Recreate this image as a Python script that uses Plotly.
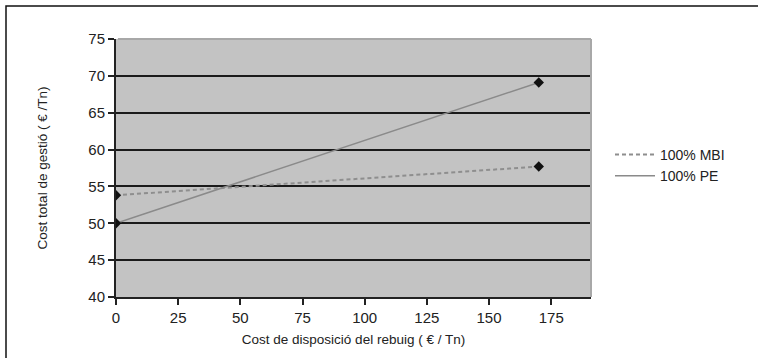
import plotly.graph_objects as go

x_vals = [0, 170]
mbi_vals = [53.8, 57.7]
pe_vals = [50.0, 69.1]
series_names = ["100% MBI", "100% PE"]
x_ticks = [0, 25, 50, 75, 100, 125, 150, 175]
y_ticks = [40, 45, 50, 55, 60, 65, 70, 75]

FONT = "Liberation Sans, Arial, sans-serif"
PW, PH = 475, 258

fig = go.Figure()
fig.add_trace(go.Scatter(x=x_vals, y=mbi_vals, mode="lines", name=series_names[0],
                         line=dict(color="#8e8e8e", width=2, dash="4px,3px")))
fig.add_trace(go.Scatter(x=x_vals, y=pe_vals, mode="lines", name=series_names[1],
                         line=dict(color="#8a8a8a", width=1.5)))
for ys in (mbi_vals, pe_vals):
    fig.add_trace(go.Scatter(x=x_vals, y=ys, mode="markers", showlegend=False,
                             marker=dict(symbol="diamond", size=8, color="#111111")))

fig.update_layout(
    width=758, height=358,
    margin=dict(l=116, r=167, t=39, b=61),
    paper_bgcolor="white", plot_bgcolor="#c3c3c3",
    font=dict(family=FONT, size=15, color="#222222"),
    showlegend=True,
    legend=dict(x=1.04, y=0.51, xanchor="left", yanchor="middle",
                font=dict(size=14, family=FONT), bgcolor="rgba(0,0,0,0)",
                tracegroupgap=0, itemwidth=40),
    shapes=[
        dict(type="rect", xref="paper", yref="paper",
             x0=-110 / PW, x1=(758 - 116 + 10) / PW, y0=-80 / PH, y1=(297 - 6) / PH,
             line=dict(color="#111111", width=1.5), fillcolor="rgba(0,0,0,0)", layer="below"),
        dict(type="line", xref="paper", yref="paper", x0=0.004, x1=1, y0=1, y1=1,
             line=dict(color="#a8a8a8", width=2), layer="above"),
        dict(type="line", xref="paper", yref="paper", x0=1, x1=1, y0=0, y1=1,
             line=dict(color="#a8a8a8", width=2), layer="above"),
    ],
)
fig.update_xaxes(range=[0, 191], tickvals=x_ticks, ticktext=[str(v) for v in x_ticks],
                 showgrid=False, zeroline=False, showline=True, linecolor="#222222",
                 linewidth=2, ticks="outside", ticklen=6, tickwidth=2, tickcolor="#222222",
                 title=dict(text="Cost de disposició del rebuig ( € / Tn)", font=dict(size=13.5), standoff=10))
fig.update_yaxes(range=[40, 75], tickvals=y_ticks, ticktext=[str(v) for v in y_ticks],
                 showgrid=True, gridcolor="#1a1a1a", gridwidth=2, zeroline=False,
                 showline=True, linecolor="#222222", linewidth=2, ticks="outside",
                 ticklen=6, tickwidth=2, tickcolor="#222222",
                 title=dict(text="Cost total de gestió ( € /Tn)", font=dict(size=13.5), standoff=38))

fig.write_html("out.html")
